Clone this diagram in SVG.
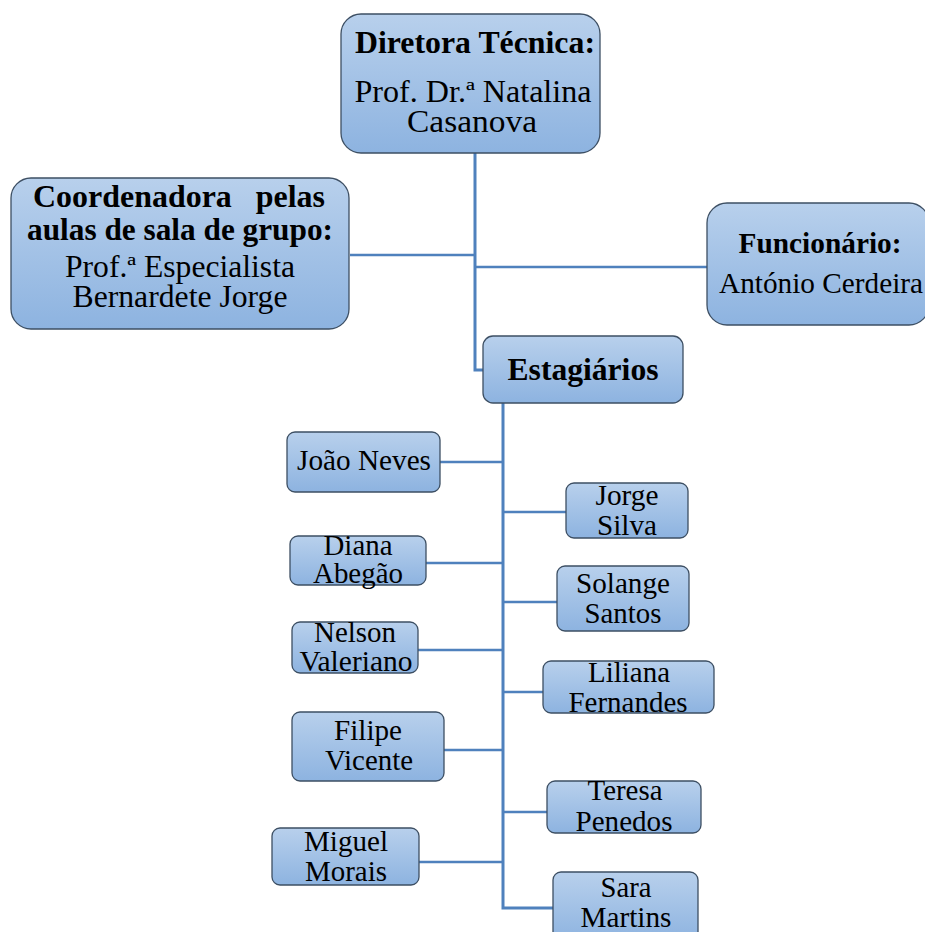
<svg xmlns="http://www.w3.org/2000/svg" width="925" height="932" viewBox="0 0 925 932">
<defs>
<linearGradient id="g" x1="0" y1="0" x2="0" y2="1">
<stop offset="0" stop-color="#b8d0ec"/>
<stop offset="1" stop-color="#8db3e0"/>
</linearGradient>
<style>
.box{fill:url(#g);stroke:#3d4f63;stroke-width:1.3}
text{font-family:"Liberation Serif","Times New Roman",serif;fill:#000;text-anchor:middle}
.b{font-weight:bold}
.m{font-size:31px}
.c{font-size:29px}
.con{fill:none;stroke:#4f81bd;stroke-width:3}
.br{fill:none;stroke:#4f81bd;stroke-width:2.5}
</style>
</defs>
<rect width="925" height="932" fill="#fff"/>
<g id="connectors">
<path class="con" d="M475 153 V370 H483"/>
<path class="br" d="M350 255 H475"/>
<path class="br" d="M475 267 H708"/>
<path class="con" d="M503 403 V908 H553"/>
<path class="br" d="M440 462 H503"/>
<path class="br" d="M503 512 H566"/>
<path class="br" d="M426 563 H503"/>
<path class="br" d="M503 602 H557"/>
<path class="br" d="M418 650 H503"/>
<path class="br" d="M503 692 H543"/>
<path class="br" d="M444 750 H503"/>
<path class="br" d="M503 812 H547"/>
<path class="br" d="M419 862 H503"/>
</g>
<g id="diretora">
<rect class="box" x="341" y="14" width="259" height="139" rx="20"/>
<text class="b m" x="475" y="53" textLength="240" lengthAdjust="spacingAndGlyphs">Diretora Técnica:</text>
<text class="m" x="473" y="102" textLength="237" lengthAdjust="spacingAndGlyphs">Prof. Dr.ª Natalina</text>
<text class="m" x="472" y="132" textLength="130" lengthAdjust="spacingAndGlyphs">Casanova</text>
</g>
<g id="coordenadora">
<rect class="box" x="11" y="178" width="338" height="151" rx="20"/>
<text class="b m" x="179" y="207" textLength="292" lengthAdjust="spacingAndGlyphs" xml:space="preserve">Coordenadora   pelas</text>
<text class="b m" x="180" y="240" textLength="306" lengthAdjust="spacingAndGlyphs">aulas de sala de grupo:</text>
<text class="m" x="180" y="277" textLength="230" lengthAdjust="spacingAndGlyphs">Prof.ª Especialista</text>
<text class="m" x="180" y="307" textLength="215" lengthAdjust="spacingAndGlyphs">Bernardete Jorge</text>
</g>
<g id="funcionario">
<rect class="box" x="707" y="203" width="222" height="122" rx="20"/>
<text class="b c" x="820" y="253" textLength="163" lengthAdjust="spacingAndGlyphs">Funcionário:</text>
<text class="c" x="821" y="293" textLength="204" lengthAdjust="spacingAndGlyphs">António Cerdeira</text>
</g>
<g id="estagiarios">
<rect class="box" x="483" y="336" width="200" height="67" rx="10"/>
<text class="b m" x="583" y="380" textLength="151" lengthAdjust="spacingAndGlyphs">Estagiários</text>
</g>
<g id="joao">
<rect class="box" x="287" y="432" width="153" height="60" rx="8"/>
<text class="c" x="364" y="470" textLength="134" lengthAdjust="spacingAndGlyphs">João Neves</text>
</g>
<g id="jorge">
<rect class="box" x="566" y="483" width="122" height="55" rx="8"/>
<text class="c" x="627" y="505" textLength="63" lengthAdjust="spacingAndGlyphs">Jorge</text>
<text class="c" x="627" y="535" textLength="60" lengthAdjust="spacingAndGlyphs">Silva</text>
</g>
<g id="diana">
<rect class="box" x="290" y="536" width="136" height="49" rx="8"/>
<text class="c" x="358" y="555" textLength="69" lengthAdjust="spacingAndGlyphs">Diana</text>
<text class="c" x="358" y="583" textLength="90" lengthAdjust="spacingAndGlyphs">Abegão</text>
</g>
<g id="solange">
<rect class="box" x="557" y="566" width="132" height="65" rx="8"/>
<text class="c" x="623" y="593" textLength="94" lengthAdjust="spacingAndGlyphs">Solange</text>
<text class="c" x="623" y="623" textLength="77" lengthAdjust="spacingAndGlyphs">Santos</text>
</g>
<g id="nelson">
<rect class="box" x="292" y="622" width="126" height="51" rx="8"/>
<text class="c" x="355" y="642" textLength="82" lengthAdjust="spacingAndGlyphs">Nelson</text>
<text class="c" x="356" y="671" textLength="113" lengthAdjust="spacingAndGlyphs">Valeriano</text>
</g>
<g id="liliana">
<rect class="box" x="543" y="661" width="171" height="52" rx="8"/>
<text class="c" x="629" y="682" textLength="82" lengthAdjust="spacingAndGlyphs">Liliana</text>
<text class="c" x="628" y="712" textLength="119" lengthAdjust="spacingAndGlyphs">Fernandes</text>
</g>
<g id="filipe">
<rect class="box" x="292" y="712" width="152" height="69" rx="8"/>
<text class="c" x="368" y="740" textLength="68" lengthAdjust="spacingAndGlyphs">Filipe</text>
<text class="c" x="369" y="770" textLength="88" lengthAdjust="spacingAndGlyphs">Vicente</text>
</g>
<g id="teresa">
<rect class="box" x="547" y="781" width="154" height="52" rx="8"/>
<text class="c" x="625" y="800" textLength="75" lengthAdjust="spacingAndGlyphs">Teresa</text>
<text class="c" x="624" y="831" textLength="97" lengthAdjust="spacingAndGlyphs">Penedos</text>
</g>
<g id="miguel">
<rect class="box" x="272" y="828" width="147" height="57" rx="8"/>
<text class="c" x="346" y="851" textLength="84" lengthAdjust="spacingAndGlyphs">Miguel</text>
<text class="c" x="346" y="881" textLength="82" lengthAdjust="spacingAndGlyphs">Morais</text>
</g>
<g id="sara">
<rect class="box" x="553" y="872" width="145" height="70" rx="8"/>
<text class="c" x="626" y="897" textLength="51" lengthAdjust="spacingAndGlyphs">Sara</text>
<text class="c" x="626" y="927" textLength="91" lengthAdjust="spacingAndGlyphs">Martins</text>
</g>
</svg>
